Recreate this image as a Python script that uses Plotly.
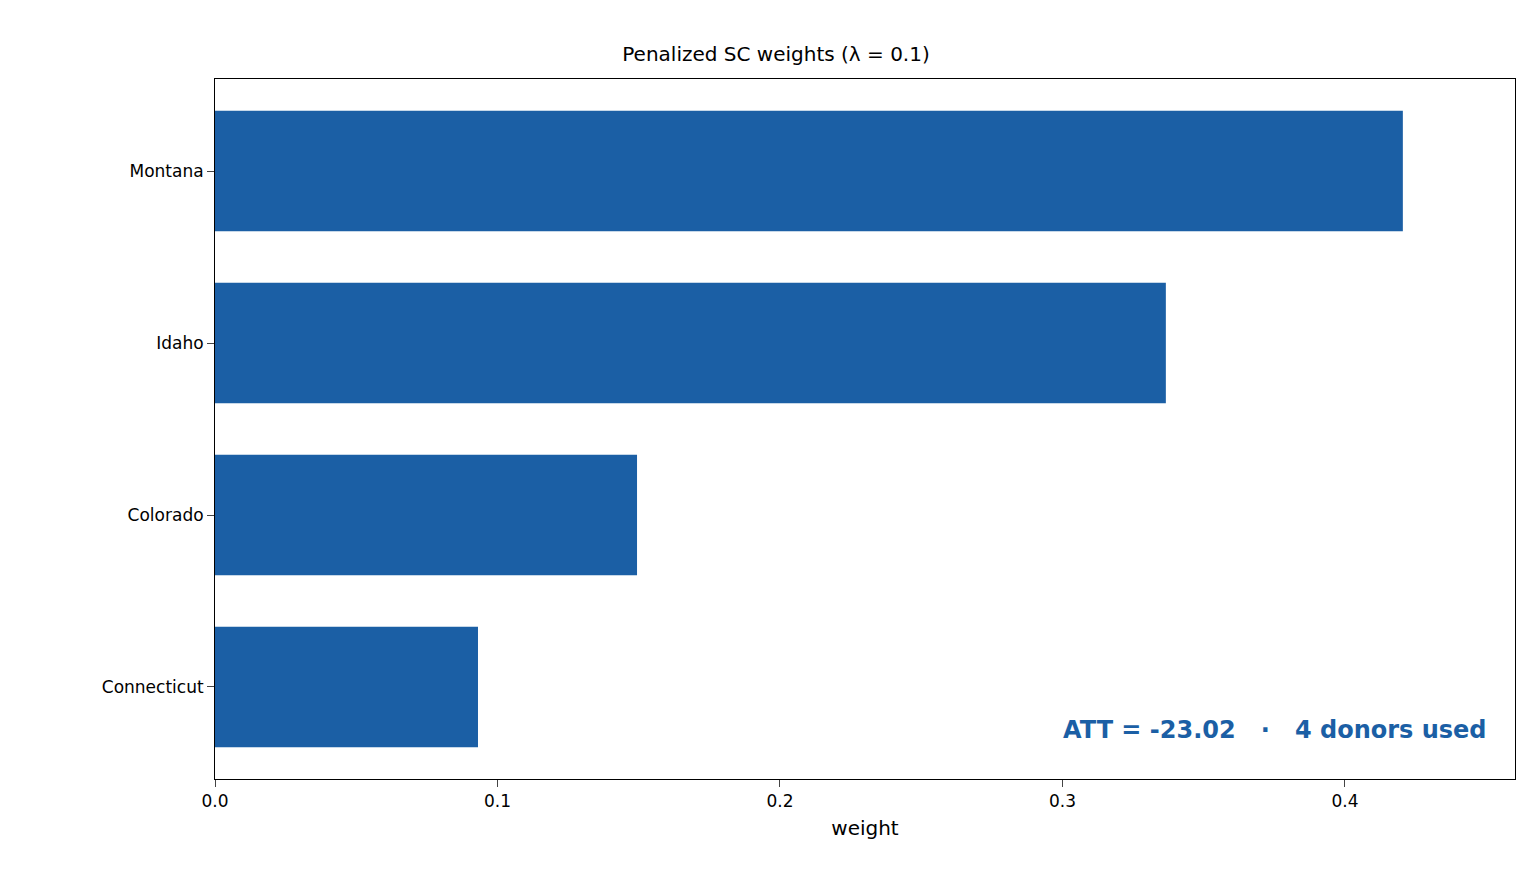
import plotly.graph_objects as go

states = ["Connecticut", "Colorado", "Idaho", "Montana"]
weights = [0.0931, 0.1494, 0.3366, 0.4205]
att_text = "ATT = -23.02   ·   4 donors used"

BLUE = "#1b5fa5"
FONT = "DejaVu Sans"

fig = go.Figure()
fig.add_trace(go.Bar(
    x=weights, y=list(range(len(states))), orientation="h",
    width=0.7, marker=dict(color=BLUE, line=dict(width=0)),
))
fig.update_layout(
    width=1536, height=883,
    margin=dict(l=207, r=29, t=71, b=112),
    plot_bgcolor="white", paper_bgcolor="white",
    font=dict(family=FONT, size=17, color="black"),
    showlegend=False,
    title=dict(text="Penalized SC weights (λ = 0.1)", x=0.5, xanchor="center",
               y=1 - 46 / 883, yanchor="middle", font=dict(size=20)),
    xaxis=dict(range=[0, 0.4602], tickvals=[0, 0.1, 0.2, 0.3, 0.4],
               ticktext=["0.0", "0.1", "0.2", "0.3", "0.4"],
               ticks="outside", ticklen=7, showgrid=False, zeroline=False,
               showline=True, linecolor="black", mirror=True,
               title=dict(text="weight", standoff=10)),
    yaxis=dict(range=[-0.535, 3.535], tickvals=list(range(len(states))),
               ticktext=states, ticks="outside", ticklen=7, showgrid=False,
               zeroline=False, showline=True, linecolor="black", mirror=True),
)
fig.add_annotation(text=f"<b>{att_text}</b>", xref="paper", yref="paper",
                   x=0.98, y=0.07, xanchor="right", yanchor="middle",
                   showarrow=False, font=dict(size=24, color=BLUE))
fig.write_html("out.html")
